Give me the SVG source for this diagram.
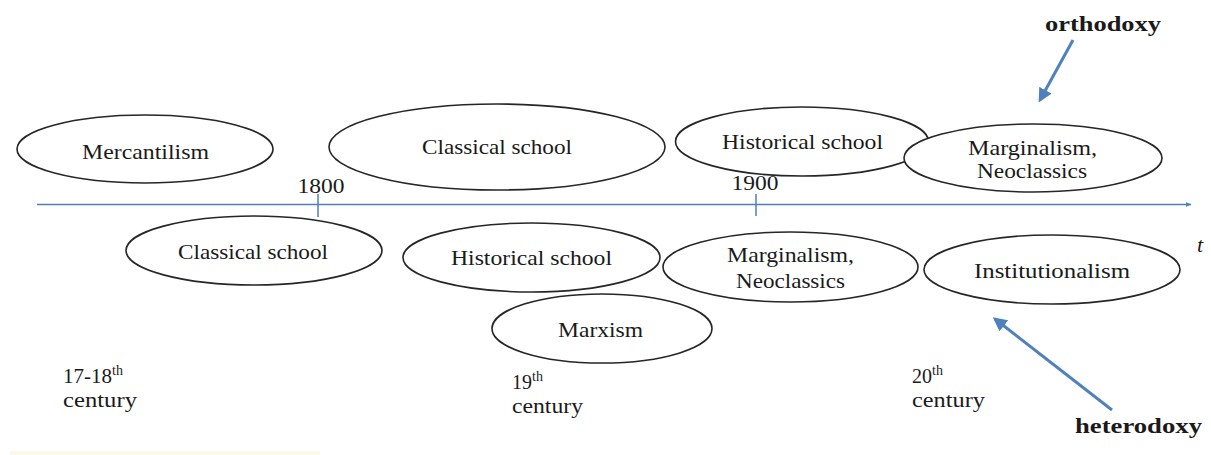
<svg xmlns="http://www.w3.org/2000/svg" width="1211" height="455" viewBox="0 0 1211 455">
  <style>
    .node ellipse { fill: #ffffff; stroke: #262626; stroke-width: 1.6; }
    text { font-family: "Liberation Serif", "Times New Roman", serif; fill: #1a1a1a; }
    .lbl { font-size: 21.5px; text-anchor: middle; }
    .yr { font-size: 20px; text-anchor: middle; }
    .era { font-size: 20px; }
    .sup { font-size: 14px; }
    .tag { font-size: 21px; font-weight: bold; }
    .axis { stroke: #4f7fb8; stroke-width: 1.5; fill: none; }
    .pointer { stroke: #4f81bd; stroke-width: 3; fill: none; }
  </style>
  <defs>
    <marker id="axisHead" viewBox="0 0 10 10" refX="9" refY="5" markerWidth="6" markerHeight="6" orient="auto" markerUnits="userSpaceOnUse">
      <path d="M0,1 L10,5 L0,9 Z" fill="#4f7fb8"/>
    </marker>
    <marker id="pointerHead" viewBox="0 0 10 10" refX="8" refY="5" markerWidth="14" markerHeight="14" orient="auto" markerUnits="userSpaceOnUse">
      <path d="M0,0 L10,5 L0,10 Z" fill="#4f81bd"/>
    </marker>
  </defs>

  <rect width="1211" height="455" fill="#ffffff"/>
  <rect x="10" y="451" width="310" height="4" fill="#fcf9e6"/>

  <!-- time axis with century ticks -->
  <g id="timeline">
    <line class="axis" x1="37" y1="204.5" x2="1191" y2="204.5" marker-end="url(#axisHead)"/>
    <line class="axis" x1="318" y1="194" x2="318" y2="217"/>
    <line class="axis" x1="756" y1="194" x2="756" y2="216"/>
    <text class="yr" x="321" y="193" textLength="47" lengthAdjust="spacingAndGlyphs">1800</text>
    <text class="yr" x="755" y="190" textLength="47" lengthAdjust="spacingAndGlyphs">1900</text>
    <text x="1200" y="252" font-family="Liberation Sans, Arial, sans-serif" font-style="italic" font-size="22" text-anchor="middle">t</text>
  </g>

  <!-- upper row: orthodox line -->
  <g id="mercantilism" class="node">
    <ellipse cx="145" cy="149" rx="128" ry="34"/>
    <text class="lbl" x="145.5" y="159" textLength="127" lengthAdjust="spacingAndGlyphs">Mercantilism</text>
  </g>
  <g id="classical-top" class="node">
    <ellipse cx="497" cy="147" rx="168" ry="43"/>
    <text class="lbl" x="497" y="154" textLength="150" lengthAdjust="spacingAndGlyphs">Classical school</text>
  </g>
  <g id="historical-top" class="node">
    <ellipse cx="802" cy="141.5" rx="126.5" ry="34.5"/>
    <text class="lbl" x="802.5" y="149" textLength="161" lengthAdjust="spacingAndGlyphs">Historical school</text>
  </g>
  <g id="marginalism-top" class="node">
    <ellipse cx="1033" cy="158" rx="129" ry="34"/>
    <text class="lbl" x="1032.5" y="155" textLength="129" lengthAdjust="spacingAndGlyphs">Marginalism,</text>
    <text class="lbl" x="1032" y="178" textLength="110" lengthAdjust="spacingAndGlyphs">Neoclassics</text>
  </g>

  <!-- lower row: heterodox line -->
  <g id="classical-bottom" class="node">
    <ellipse cx="254" cy="250.5" rx="128" ry="34.5"/>
    <text class="lbl" x="253" y="259" textLength="150" lengthAdjust="spacingAndGlyphs">Classical school</text>
  </g>
  <g id="historical-bottom" class="node">
    <ellipse cx="531.5" cy="257.5" rx="128.5" ry="34.5"/>
    <text class="lbl" x="531.5" y="265" textLength="161" lengthAdjust="spacingAndGlyphs">Historical school</text>
  </g>
  <g id="marxism" class="node">
    <ellipse cx="602" cy="328.5" rx="110" ry="34.5"/>
    <text class="lbl" x="600.5" y="337" textLength="85" lengthAdjust="spacingAndGlyphs">Marxism</text>
  </g>
  <g id="marginalism-bottom" class="node">
    <ellipse cx="790.5" cy="267" rx="127.5" ry="35"/>
    <text class="lbl" x="790.5" y="262" textLength="127" lengthAdjust="spacingAndGlyphs">Marginalism,</text>
    <text class="lbl" x="790.5" y="288" textLength="109" lengthAdjust="spacingAndGlyphs">Neoclassics</text>
  </g>
  <g id="institutionalism" class="node">
    <ellipse cx="1052" cy="269.5" rx="128" ry="34.5"/>
    <text class="lbl" x="1052" y="278" textLength="156" lengthAdjust="spacingAndGlyphs">Institutionalism</text>
  </g>

  <!-- era captions -->
  <g id="era-17-18">
    <text class="era" x="63" y="383"><tspan textLength="49" lengthAdjust="spacingAndGlyphs">17-18</tspan><tspan class="sup" dy="-8">th</tspan></text>
    <text class="era" x="63" y="407" textLength="74" lengthAdjust="spacingAndGlyphs">century</text>
  </g>
  <g id="era-19">
    <text class="era" x="512" y="389">19<tspan class="sup" dy="-8">th</tspan></text>
    <text class="era" x="512" y="413" textLength="71" lengthAdjust="spacingAndGlyphs">century</text>
  </g>
  <g id="era-20">
    <text class="era" x="912" y="383">20<tspan class="sup" dy="-8">th</tspan></text>
    <text class="era" x="912" y="407" textLength="73" lengthAdjust="spacingAndGlyphs">century</text>
  </g>

  <!-- orthodoxy / heterodoxy tags -->
  <g id="orthodoxy">
    <text class="tag" x="1045" y="31" textLength="116" lengthAdjust="spacingAndGlyphs">orthodoxy</text>
  </g>
  <g id="heterodoxy">
    <text class="tag" x="1075" y="433" textLength="127" lengthAdjust="spacingAndGlyphs">heterodoxy</text>
  </g>

  <g id="connectors">
    <line class="pointer" x1="1073" y1="40" x2="1040" y2="100" marker-end="url(#pointerHead)"/>
    <line class="pointer" x1="1112" y1="410" x2="995" y2="319" marker-end="url(#pointerHead)"/>
  </g>
</svg>
